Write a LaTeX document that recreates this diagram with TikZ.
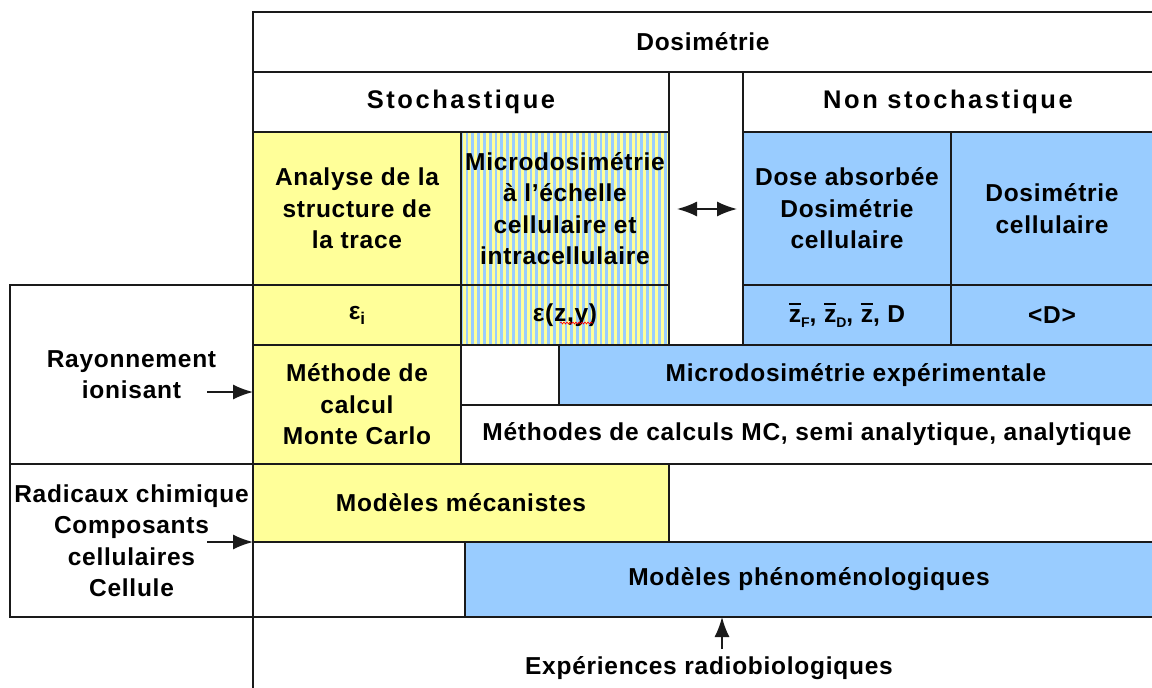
\documentclass[tikz,border=0pt]{standalone}
\usepackage{fontspec}
\setmainfont{Liberation Sans}[LetterSpace=3]
\usetikzlibrary{arrows.meta,decorations.pathmorphing}
\definecolor{cy}{HTML}{FFFF99}
\definecolor{cb}{HTML}{99CCFF}
\definecolor{ln}{HTML}{1A1A1A}
\newcommand{\mkcell}[7][]{%
  \node[cell,#1,minimum width={#4-#2},minimum height={#5-#3}]
    (#7) at ({(#2+#4)/2},{(#3+#5)/2}) {#6};}
\newcommand{\ovz}{\setbox0\hbox{z}\leavevmode\vbox{\hrule height 1.6pt width \wd0 \kern 5pt \box0}}
\newcommand{\zb}[1]{\ovz\raisebox{-0.35ex}{\fontsize{14}{14}\selectfont #1}}
\begin{document}
\begin{tikzpicture}[x=1pt,y=-1pt,
  cell/.style={draw=ln,line width=1.4pt,inner sep=0pt,outer sep=0pt,align=center,fill=white,
    font=\bfseries\fontsize{24.5}{31.5}\selectfont,text=black},
  big/.style={font=\bfseries\fontsize{25.5}{30}\selectfont\addfontfeature{LetterSpace=10}},
  yel/.style={fill=cy},
  blu/.style={fill=cb},
  striped/.style={fill=cb,path picture={
    \foreach \k in {0,...,40}{
      \fill[cy] ([xshift=\k*5.83pt+1.5pt]path picture bounding box.south west) rectangle ++(3pt,200pt);}}},
  lbl/.style={inner sep=0pt,align=center,font=\bfseries\fontsize{24.5}{31.5}\selectfont},
  arr/.style={-{Latex[length=20pt,width=15pt]},line width=1.6pt,draw=ln},
  darr/.style={{Latex[length=20pt,width=15pt]}-{Latex[length=20pt,width=15pt]},line width=1.6pt,draw=ln}]
\useasboundingbox (0,0) rectangle (1152,688);
% main column line down to bottom
\coordinate (mb) at (253,692);
% header
\mkcell{253}{12}{1153}{72}{Dosimétrie}{dos}
\mkcell[big]{253}{72}{669}{132}{Stochastique}{sto}
\mkcell{669}{72}{743}{345}{}{gap}
\mkcell[big]{743}{72}{1153}{132}{Non stochastique}{nst}
% first band
\mkcell[yel]{253}{132}{461}{285}{Analyse de la\\structure de\\la trace}{ana}
\mkcell[striped]{461}{132}{669}{285}{Microdosimétrie\\à l’échelle\\cellulaire et\\intracellulaire}{mic}
\mkcell[blu]{743}{132}{951}{285}{Dose absorbée\\Dosimétrie\\cellulaire}{dab}
\mkcell[blu]{951}{132}{1153}{285}{Dosimétrie\\cellulaire}{dce}
% left boxes
\mkcell{10}{285}{253}{464}{Rayonnement\\ionisant}{ray}
\mkcell{10}{464}{253}{617}{Radicaux chimique\\Composants\\cellulaires\\Cellule}{rad}
% quantities row
\mkcell[yel]{253}{285}{461}{345}{ε\raisebox{-0.4ex}{\fontsize{17}{17}\selectfont i}}{epi}
\mkcell[striped]{461}{285}{669}{345}{ε(z,y)}{ezy}
\mkcell[blu]{743}{285}{951}{345}{\zb{F}, \zb{D}, \ovz, D}{zfd}
\mkcell[blu]{951}{285}{1153}{345}{<D>}{dmean}
% methods
\mkcell[yel]{253}{345}{461}{464}{Méthode de\\calcul\\Monte Carlo}{mcm}
\mkcell{461}{345}{559}{405}{}{emp1}
\mkcell[blu]{559}{345}{1153}{405}{Microdosimétrie expérimentale}{mex}
\mkcell{461}{405}{1153}{464}{Méthodes de calculs MC, semi analytique, analytique}{mth}
% models
\mkcell[yel]{253}{464}{669}{542}{Modèles mécanistes}{mec}
\mkcell{669}{464}{1153}{542}{}{emp2}
\mkcell{253}{542}{465}{617}{}{emp3}
\mkcell[blu]{465}{542}{1153}{617}{Modèles phénoménologiques}{phe}
\draw[ln,line width=1.4pt] (emp3.south west) -- (mb);
% spell-check squiggle
\coordinate (sq1) at (560,323);
\coordinate (sq2) at (593,323);
\draw[red,line width=0.6pt,decorate,decoration={snake,amplitude=1pt,segment length=3pt}] (sq1) -- (sq2);
% arrows
\coordinate (g1) at (677,209);
\coordinate (g2) at (737,209);
\draw[darr] (g1) -- (g2);
\coordinate (ra) at (207,392);
\draw[arr] (ra) -- (ra -| mcm.west);
\coordinate (rb) at (207,542);
\draw[arr] (rb) -- (rb -| mec.west);
\node[lbl] (exp) at (709,668) {Expériences radiobiologiques};
\coordinate (ea) at (722,649);
\draw[arr] (ea) -- (ea |- phe.south);
\end{tikzpicture}
\end{document}
